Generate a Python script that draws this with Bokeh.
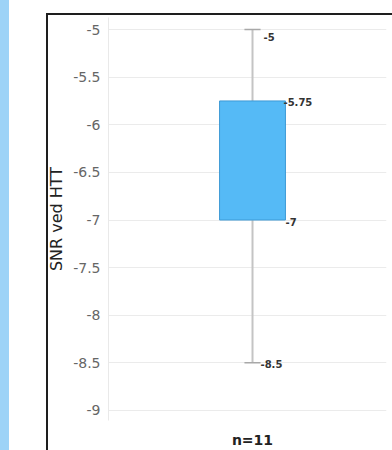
from bokeh.plotting import figure
from bokeh.models import Range1d, FixedTicker, ColumnDataSource, NumeralTickFormatter
from bokeh.core.properties import value
from bokeh.embed import file_html
from bokeh.resources import INLINE

# ---- data ----
categories = ["n=11"]
whisker_high = [-5.0]
q3 = [-5.75]
q1 = [-7.0]
whisker_low = [-8.5]
y_ticks = [-5, -5.5, -6, -6.5, -7, -7.5, -8, -8.5, -9]
y_label = "SNR ved HTT"

xs = list(range(len(categories)))

p = figure(width=392, height=450, output_backend="svg", toolbar_location=None,
           x_range=Range1d(-0.518, 0.482), y_range=Range1d(-9.105, -4.874),
           min_border_left=108, min_border_right=6, min_border_top=17,
           min_border_bottom=30)

p.border_fill_color = None
p.background_fill_color = "white"
p.outline_line_color = None
p.styles = {
    "background": ("linear-gradient(#1e1e1e,#1e1e1e) 46px 13px / 346px 2px no-repeat, "
                   "linear-gradient(#1e1e1e,#1e1e1e) 46px 13px / 2px 437px no-repeat, "
                   "linear-gradient(#9dd3f7,#9dd3f7) 0px 0px / 9px 450px no-repeat, #ffffff")
}

# grid
p.xgrid.visible = False
p.ygrid.ticker = FixedTicker(ticks=y_ticks)
p.ygrid.grid_line_color = "#ebebeb"
p.ygrid.grid_line_width = 1

# y axis
p.yaxis.ticker = FixedTicker(ticks=y_ticks)
p.yaxis.formatter = NumeralTickFormatter(format="0.[0]")
p.yaxis.axis_line_color = "#e9e9e9"
p.yaxis.major_tick_line_color = None
p.yaxis.minor_tick_line_color = None
p.yaxis.major_label_standoff = 2
p.yaxis.major_label_text_font = "DejaVu Sans"
p.yaxis.major_label_text_font_size = "14px"
p.yaxis.major_label_text_color = "#666666"
p.yaxis.axis_label = y_label
p.yaxis.axis_label_text_font = "DejaVu Sans"
p.yaxis.axis_label_text_font_size = "16px"
p.yaxis.axis_label_text_font_style = "normal"
p.yaxis.axis_label_text_color = "#222222"
p.yaxis.axis_label_standoff = 4

# x axis
p.xaxis.ticker = FixedTicker(ticks=xs)
p.xaxis.major_label_overrides = {i: c for i, c in zip(xs, categories)}
p.xaxis.axis_line_color = None
p.xaxis.major_tick_line_color = None
p.xaxis.minor_tick_line_color = None
p.xaxis.major_label_standoff = 5
p.xaxis.major_label_text_font = "DejaVu Sans"
p.xaxis.major_label_text_font_size = "14px"
p.xaxis.major_label_text_font_style = "bold"
p.xaxis.major_label_text_color = "#222222"

src = ColumnDataSource(dict(x=xs, hi=whisker_high, q3=q3, q1=q1, lo=whisker_low))

# whiskers
p.segment(x0="x", y0="hi", x1="x", y1="q3", source=src, line_color="#c4c4c4", line_width=2)
p.segment(x0="x", y0="q1", x1="x", y1="lo", source=src, line_color="#c4c4c4", line_width=2)

# caps
cap_half = 0.029
caps = ColumnDataSource(dict(
    x0=[x - cap_half for x in xs] * 2,
    x1=[x + cap_half for x in xs] * 2,
    y=whisker_high + whisker_low,
))
p.segment(x0="x0", y0="y", x1="x1", y1="y", source=caps, line_color="#a8a8a8", line_width=1.5)

# box
p.vbar(x="x", bottom="q1", top="q3", width=0.237, source=src,
       fill_color="#55baf6", line_color="#3d9ad6", line_width=1)

# value labels
label_vals = whisker_high + q3 + q1 + whisker_low
lab = ColumnDataSource(dict(
    x=xs * 4,
    y=label_vals,
    text=[f"{v:g}" for v in label_vals],
    xo=[11, 31, 33, 8],
    yo=[7, 1, 2, 1],
))
p.text(x="x", y="y", text="text", x_offset="xo", y_offset="yo", source=lab,
       text_font=value("DejaVu Sans"), text_font_size="10px", text_font_style="bold",
       text_color="#333333", text_baseline="middle", text_align="left")

open("out.html", "w").write(file_html(p, INLINE))
